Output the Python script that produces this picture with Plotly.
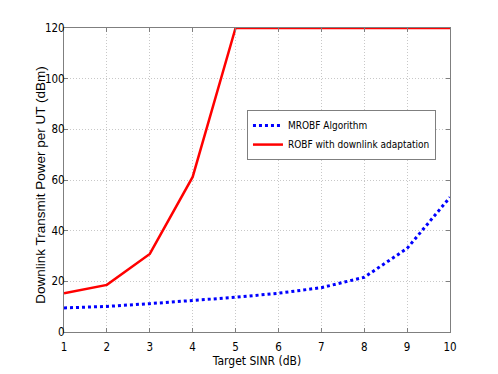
import plotly.graph_objects as go

# Target SINR (dB)
sinr = [1, 2, 3, 4, 5, 6, 7, 8, 9, 10]

# Downlink transmit power per UT (dBm)
mrobf_power = [9.5, 10.1, 11.2, 12.4, 13.7, 15.3, 17.5, 21.6, 33.0, 53.2]
robf_power = [15.3, 18.6, 30.8, 61.2, 120, 120, 120, 120, 120, 120]

narrow = "DejaVu Sans Condensed, Liberation Sans Narrow, Arial Narrow, sans-serif"

fig = go.Figure()
fig.add_trace(go.Scatter(
    x=sinr, y=mrobf_power, mode="lines", name="MROBF Algorithm",
    line=dict(color="#0000ff", width=3, dash="dot"),
))
fig.add_trace(go.Scatter(
    x=sinr, y=robf_power, mode="lines", name="ROBF with downlink adaptation",
    line=dict(color="#ff0000", width=2.5),
))

axis_common = dict(
    showline=True, linecolor="#7f7f7f", linewidth=1, mirror="ticks",
    ticks="inside", ticklen=4, tickcolor="#7f7f7f",
    showgrid=True, gridcolor="#c8c8c8", griddash="1px,2px", gridwidth=1,
    zeroline=False, automargin=False,
    tickfont=dict(family=narrow, size=11.5, color="black"),
)

# the page adds an 8px body margin, so margins are pulled in by 8px
fig.update_layout(
    width=498, height=374,
    margin=dict(l=56, r=56, t=20, b=50),
    paper_bgcolor="white", plot_bgcolor="white",
    showlegend=True,
    legend=dict(
        x=0.474, y=0.73, xanchor="left", yanchor="top",
        bgcolor="white", bordercolor="#7f7f7f", borderwidth=1,
        font=dict(family=narrow, size=10, color="black"),
        tracegroupgap=0, itemwidth=30,
    ),
    xaxis=dict(
        range=[1, 10], tickvals=sinr, ticklabelstandoff=4, **axis_common,
        title=dict(text="Target SINR (dB)", standoff=0,
                   font=dict(family=narrow, size=12, color="black")),
    ),
    yaxis=dict(
        range=[0, 120], tickvals=[0, 20, 40, 60, 80, 100, 120],
        ticklabelstandoff=-4, **axis_common,
    ),
)

# y title placed by hand: it sits closer to the tick labels than standoff allows
fig.add_annotation(
    text="Downlink Transmit Power per UT (dBm)",
    xref="paper", yref="paper", x=-0.06, y=0.484,
    xanchor="center", yanchor="middle", textangle=-90, showarrow=False,
    font=dict(family="Liberation Sans, Arial, sans-serif", size=13.5, color="black"),
)

fig.write_html("out.html")
